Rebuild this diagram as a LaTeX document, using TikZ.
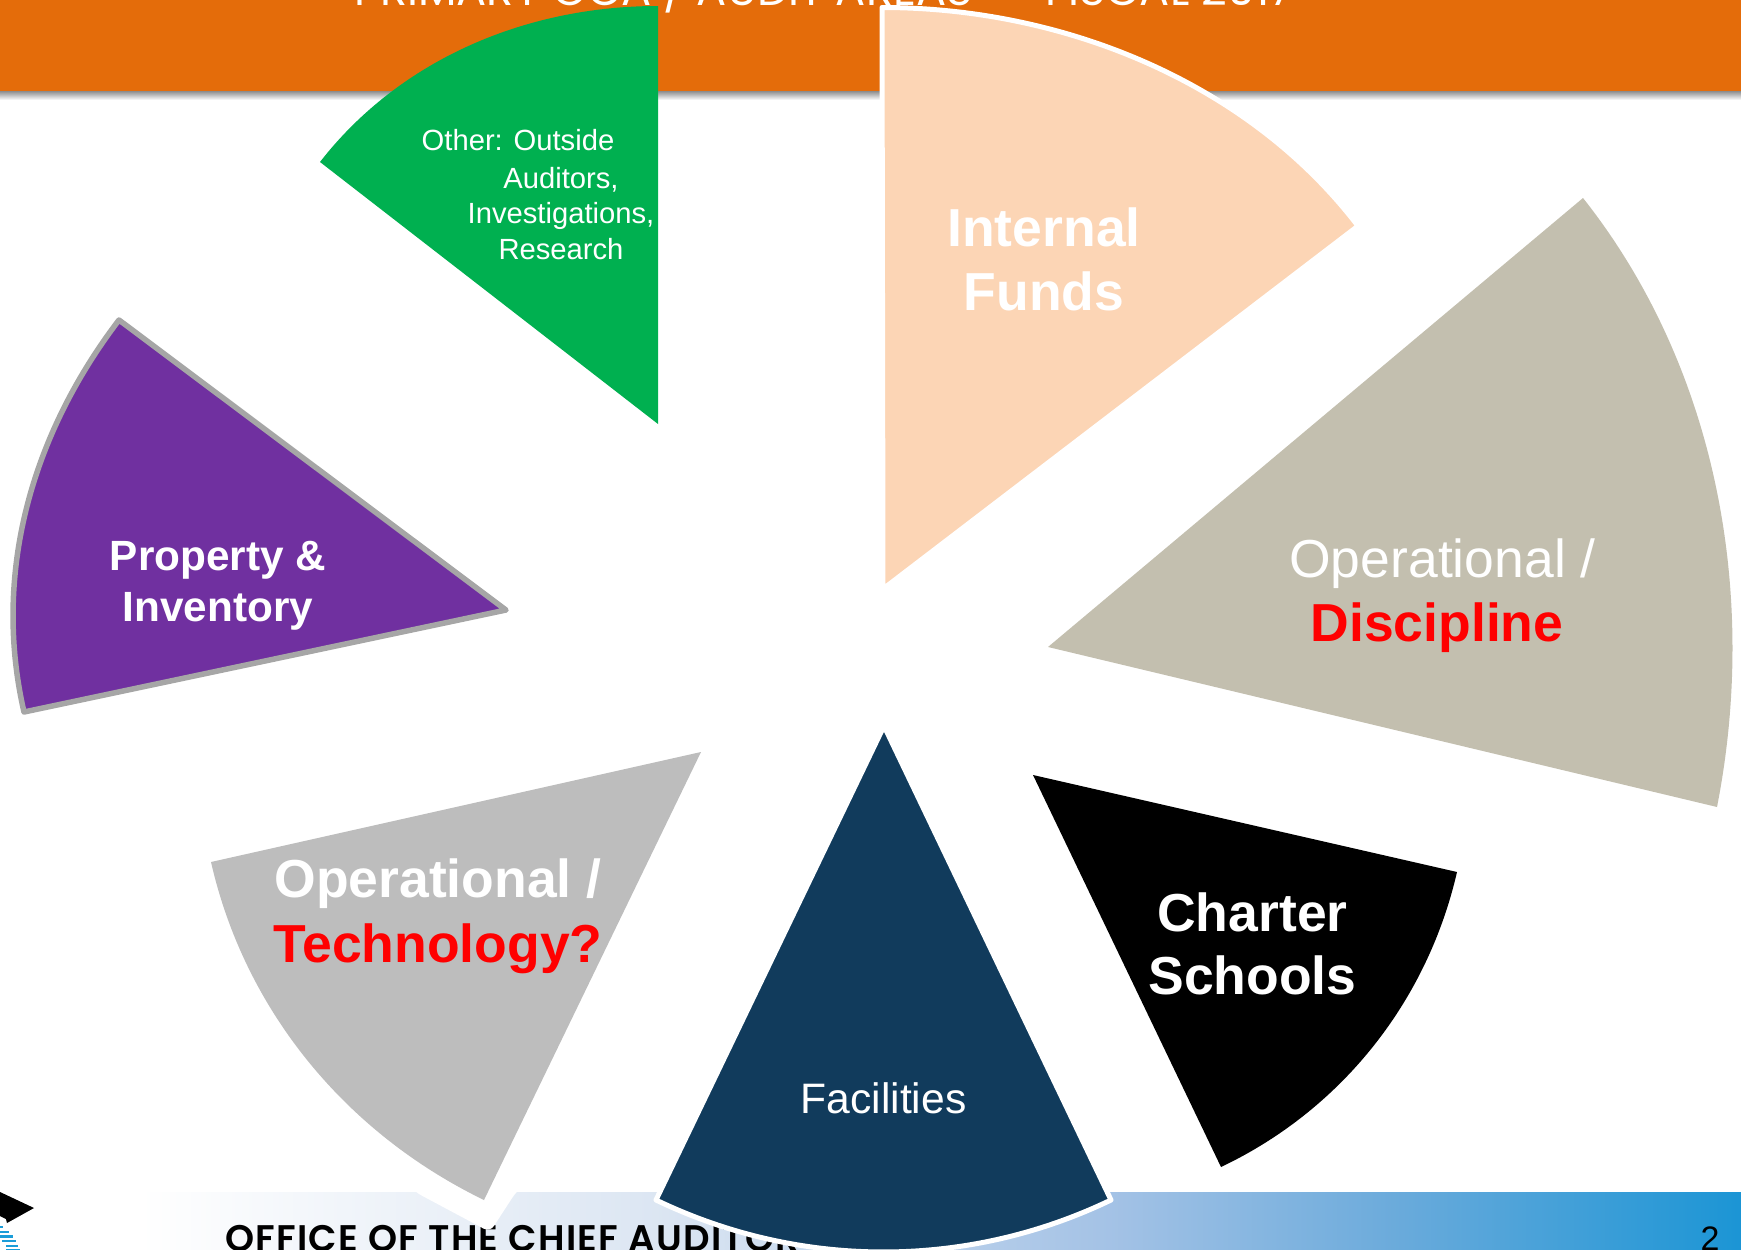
\documentclass[tikz,border=0pt]{standalone}
\usepackage{fontspec}
\setmainfont{Liberation Sans}
\newfontfamily\geofont{Poppins}
\newfontfamily\footfont[LetterSpace=3.5]{Poppins SemiBold}
\definecolor{orangeband}{HTML}{E46C0A}
\definecolor{peach}{HTML}{FCD5B5}
\definecolor{beige}{HTML}{C3BFAF}
\definecolor{lightgrey}{HTML}{BDBDBD}
\definecolor{navy}{HTML}{113B5C}
\definecolor{greenw}{HTML}{00B050}
\definecolor{purplew}{HTML}{7030A0}
\definecolor{purpleedge}{HTML}{A6A6A6}
\definecolor{stripe}{HTML}{1B9DD9}
\pgfdeclarehorizontalshading{bandshade}{100bp}{rgb(0bp)=(1,1,1); rgb(29bp)=(1,1,1); rgb(44bp)=(0.86,0.90,0.95); rgb(57bp)=(0.64,0.76,0.90); rgb(65bp)=(0.42,0.67,0.86); rgb(75bp)=(0.106,0.584,0.835); rgb(100bp)=(0.106,0.584,0.835)}
\tikzset{
  whiteedge/.style={draw=white,line width=5pt,line join=round},
  biglabel/.style={font=\fontsize{53.5}{64}\selectfont,align=center,inner sep=0pt,text=white},
  midlabel/.style={font=\fontsize{42}{51}\selectfont,align=center,inner sep=0pt,text=white},
  smalllabel/.style={font=\fontsize{29.2}{35.5}\selectfont,align=center,inner sep=0pt,text=white},
  stripebar/.style={fill=stripe},
}
\begin{document}
\begin{tikzpicture}[x=1pt,y=-1pt]
\useasboundingbox (0,0) rectangle (1741,1250);
\clip (0,0) rectangle (1741,1250);
% header
\fill[orangeband] (0,0) rectangle (1741,91);
\shade[top color=black!45,bottom color=white] (0,91) rectangle (1741,100);
\node[anchor=base,inner sep=0pt,text=white,font=\geofont\fontsize{44.7}{50}\selectfont] (title) at (824,5.5) {PRIMARY OCA / AUDIT AREAS -- FISCAL 2017};
% footer band
\shade[shading=bandshade] (0,1192) rectangle (1741,1250);
\node[anchor=base west,inner sep=0pt,text=black,font=\footfont\fontsize{37}{44}\selectfont] (footer) at (225,1251) {OFFICE OF THE CHIEF AUDITOR};
\node[anchor=base,inner sep=0pt,text=black,font=\fontsize{34}{40}\selectfont] (page) at (1710,1250) {2};
% logo
\fill[black] (0,1192) -- (34,1208) -- (7,1223) -- (6,1219) -- (0,1216) -- cycle;
\fill[stripebar] (0,1226) rectangle (3.3,1228.3);
\fill[stripebar] (0,1230.5) rectangle (9,1233);
\fill[stripebar] (0,1235) rectangle (13.3,1237.5);
\fill[stripebar] (2.3,1239.5) rectangle (16,1242);
\fill[stripebar] (5.7,1244.5) rectangle (18.3,1247);
\fill[stripebar] (5.7,1248.7) rectangle (20,1251);
% white patch of the grey wedge over the band
\fill[white,rounded corners=7pt] (405,1180) -- (415,1192) -- (490,1232) -- (516,1192) -- (530,1180) -- cycle;
% wedges
\coordinate (ga) at (658,424);
\fill[greenw] (ga) -- (658,6) .. controls (528,6) and (401,58) .. (320,162) -- cycle;
\coordinate (pa) at (883,589);
\path[fill=peach,whiteedge] (pa) -- (882,7.5) .. controls (1063,7.5) and (1248,82) .. (1358,226) -- cycle;
\coordinate (ba) at (1048,647);
\fill[beige] (ba) -- (1583,198) .. controls (1716,366) and (1759,593) .. (1717,807) -- cycle;
\coordinate (ka) at (1033,775);
\fill[black] (ka) -- (1457,872) .. controls (1427,1002) and (1341,1110) .. (1221,1167) -- cycle;
\coordinate (na) at (884,726);
\path[fill=navy,whiteedge] (na) -- (1111,1200) .. controls (967,1269.3) and (800,1269.3) .. (656,1200) -- cycle;
\coordinate (ya) at (701,752);
\fill[lightgrey] (ya) -- (211,862) .. controls (245,1011) and (346,1133) .. (484,1200) -- cycle;
\coordinate (va) at (506,610);
\path[fill=purplew,draw=purpleedge,line width=5.5pt,line join=round] (va) -- (119,320) .. controls (32,434) and (-8,573) .. (24,712) -- cycle;
% labels
\node[smalllabel] (other) at (561,194.5) {Other: Outside\hspace*{86pt}\\[2pt]Auditors,\\Investigations,\\Research};
\node[biglabel,font=\bfseries\fontsize{53.5}{64}\selectfont] (funds) at (1044,259) {Internal\\Funds};
\node[biglabel] (disc) at (1437,595.5) {\hspace*{11pt}Operational /\\{\bfseries\color{red}Discipline}};
\node[biglabel,font=\bfseries\fontsize{53.5}{63}\selectfont] (charter) at (1252.5,944) {Charter\\Schools};
\node[midlabel,font=\fontsize{42.6}{51}\selectfont] (fac) at (883.5,1098) {Facilities};
\node[biglabel,font=\bfseries\fontsize{53.5}{65}\selectfont] (tech) at (438,916.5) {Operational /\\{\color{red}Technology?}};
\node[midlabel,font=\bfseries\fontsize{42.3}{51}\selectfont] (prop) at (218,585.5) {Property \&\\Inventory};
\end{tikzpicture}
\end{document}
